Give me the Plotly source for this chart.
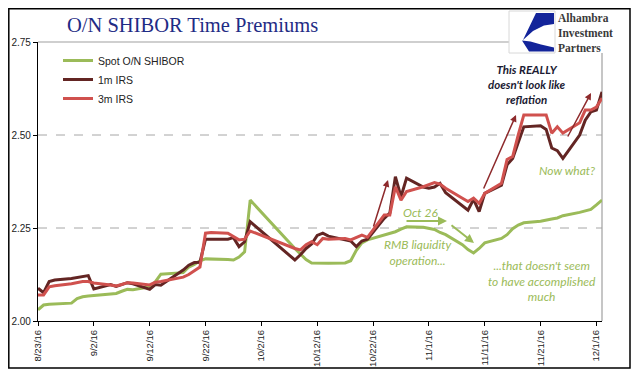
import plotly.graph_objects as go

# ---------------- data ----------------
dates = [
    "2016-08-23", "2016-08-24", "2016-08-25", "2016-08-26",
    "2016-08-29", "2016-08-30", "2016-08-31", "2016-09-01", "2016-09-02",
    "2016-09-05", "2016-09-06", "2016-09-07", "2016-09-08", "2016-09-09",
    "2016-09-12", "2016-09-13", "2016-09-14",
    "2016-09-18", "2016-09-19", "2016-09-20", "2016-09-21", "2016-09-22", "2016-09-23",
    "2016-09-26", "2016-09-27", "2016-09-28", "2016-09-29", "2016-09-30",
    "2016-10-08", "2016-10-09", "2016-10-10", "2016-10-11", "2016-10-12", "2016-10-13", "2016-10-14",
    "2016-10-17", "2016-10-18", "2016-10-19", "2016-10-20", "2016-10-21",
    "2016-10-24", "2016-10-25", "2016-10-26", "2016-10-27", "2016-10-28",
    "2016-10-31", "2016-11-01", "2016-11-02", "2016-11-03", "2016-11-04",
    "2016-11-07", "2016-11-08", "2016-11-09", "2016-11-10", "2016-11-11",
    "2016-11-14", "2016-11-15", "2016-11-16", "2016-11-17", "2016-11-18",
    "2016-11-21", "2016-11-22", "2016-11-23", "2016-11-24", "2016-11-25",
    "2016-11-28", "2016-11-29", "2016-11-30", "2016-12-01", "2016-12-02",
]

spot_on_shibor = [
    2.030, 2.043, 2.045, 2.046,
    2.048, 2.060, 2.065, 2.067, 2.068,
    2.072, 2.074, 2.080, 2.085, 2.084,
    2.092, 2.105, 2.126,
    2.130, 2.145, 2.152, 2.162, 2.167, 2.167,
    2.165, 2.164, 2.172, 2.186, 2.325,
    2.195, 2.180, 2.165, 2.156, 2.155, 2.155, 2.155,
    2.156, 2.162, 2.190, 2.210, 2.218,
    2.232, 2.236, 2.240, 2.247, 2.253,
    2.252, 2.250, 2.246, 2.238, 2.232,
    2.205, 2.192, 2.183, 2.195, 2.210,
    2.222, 2.232, 2.248, 2.258, 2.264,
    2.268, 2.270, 2.274, 2.277, 2.283,
    2.292, 2.296, 2.300, 2.312, 2.325,
]

irs_1m = [
    2.088, 2.076, 2.106, 2.110,
    2.114, 2.117, 2.120, 2.122, 2.086,
    2.098, 2.093, 2.097, 2.103, 2.100,
    2.085, 2.098, 2.096,
    2.137, 2.150, 2.157, 2.158, 2.220, 2.220,
    2.220, 2.224, 2.200, 2.213, 2.267,
    2.164, 2.178, 2.195, 2.207, 2.230, 2.236, 2.228,
    2.218, 2.215, 2.200, 2.215, 2.220,
    2.276, 2.290, 2.388, 2.334, 2.384,
    2.360, 2.357, 2.360, 2.370, 2.345,
    2.310, 2.298, 2.327, 2.294, 2.343,
    2.365, 2.420, 2.437, 2.480, 2.522,
    2.525, 2.515, 2.465, 2.458, 2.437,
    2.500, 2.540, 2.562, 2.567, 2.616,
]

irs_3m = [
    2.070, 2.070, 2.092, 2.095,
    2.100, 2.103, 2.106, 2.106, 2.102,
    2.097, 2.094, 2.098, 2.103, 2.102,
    2.097, 2.104, 2.106,
    2.118, 2.125, 2.135, 2.145, 2.236, 2.238,
    2.236, 2.228, 2.218, 2.220, 2.242,
    2.195, 2.191, 2.205, 2.213, 2.205, 2.222, 2.220,
    2.222, 2.218, 2.225, 2.231, 2.225,
    2.285, 2.285, 2.361, 2.325, 2.348,
    2.361, 2.366, 2.372, 2.368, 2.357,
    2.330, 2.321, 2.330, 2.316, 2.343,
    2.370, 2.434, 2.442, 2.500, 2.554,
    2.554, 2.554, 2.505, 2.522, 2.505,
    2.533, 2.567, 2.567, 2.575, 2.599,
]

x_tick_dates = ["2016-08-23", "2016-09-02", "2016-09-12", "2016-09-22", "2016-10-02",
                "2016-10-12", "2016-10-22", "2016-11-01", "2016-11-11", "2016-11-21", "2016-12-01"]
x_tick_labels = ["8/23/16", "9/2/16", "9/12/16", "9/22/16", "10/2/16",
                 "10/12/16", "10/22/16", "11/1/16", "11/11/16", "11/21/16", "12/1/16"]
y_tick_values = [2.00, 2.25, 2.50, 2.75]
y_tick_labels = ["2.00", "2.25", "2.50", "2.75"]

series_names = ["Spot O/N SHIBOR", "1m IRS", "3m IRS"]

# ---------------- layout helpers ----------------
# reference-image pixel frame; the page body adds an 8px offset, so the figure is 8px smaller
OFF = 8
W, H = 640 - OFF, 379 - OFF
L, R, T, B = 38, 602, 42, 321


def px(x):
    return (x - L) / (R - L)


def py(y):
    return (B - y) / (B - T)


GREEN = "#9BBB59"
DARK = "#632523"
RED = "#D0514E"
ARROW_RED = "#8E2A2C"
NAVY = "#1F2C85"

fig = go.Figure()
fig.add_trace(go.Scatter(x=dates, y=spot_on_shibor, name=series_names[0], mode="lines",
                         line=dict(color=GREEN, width=3)))
fig.add_trace(go.Scatter(x=dates, y=irs_1m, name=series_names[1], mode="lines",
                         line=dict(color=DARK, width=3)))
fig.add_trace(go.Scatter(x=dates, y=irs_3m, name=series_names[2], mode="lines",
                         line=dict(color=RED, width=3)))

shapes = []
# outer border
shapes.append(dict(type="rect", xref="paper", yref="paper", x0=px(8.8), x1=px(630), y0=py(368), y1=py(8.8),
                   line=dict(color="black", width=1.5), fillcolor="rgba(0,0,0,0)", layer="below"))
# dashed gridlines
for v in [2.25, 2.50]:
    shapes.append(dict(type="line", xref="paper", yref="y", x0=0, x1=1, y0=v, y1=v,
                       line=dict(color="#A6A6A6", width=1, dash="dash"), layer="below"))
# top line and right line of plot area
shapes.append(dict(type="line", xref="paper", yref="paper", x0=0, x1=px(509), y0=1, y1=1,
                   line=dict(color="#A0A0A0", width=1.2), layer="below"))
shapes.append(dict(type="line", xref="paper", yref="paper", x0=1, x1=1, y0=0, y1=py(53),
                   line=dict(color="#A0A0A0", width=1.2), layer="below"))
# logo box
shapes.append(dict(type="rect", xref="paper", yref="paper", x0=px(509), x1=px(555), y0=py(53), y1=py(11),
                   line=dict(color="#D8D8D8", width=1), fillcolor="white"))


def path(points):
    return "M " + " L ".join(f"{px(a):.5f},{py(b):.5f}" for a, b in points) + " Z"


shapes.append(dict(type="path", xref="paper", yref="paper",
                   path=path([(536, 13), (554, 13), (554, 24), (544, 25.5), (533, 31), (523, 40)]),
                   fillcolor="#13249A", line=dict(width=0)))
shapes.append(dict(type="path", xref="paper", yref="paper",
                   path=path([(522, 40.5), (529, 51.5), (554, 51.5), (554, 47.5), (541, 44.5), (530.5, 41.5)]),
                   fillcolor="#13249A", line=dict(width=0)))

annotations = []
# title
annotations.append(dict(text="O/N SHIBOR Time Premiums", xref="paper", yref="paper",
                        x=px(65), y=py(25), xanchor="left", yanchor="middle", showarrow=False,
                        font=dict(family="Liberation Serif", size=20.5, color=NAVY)))
# logo text
annotations.append(dict(text="<b>Alhambra<br>Investment<br>Partners</b>", xref="paper", yref="paper",
                        x=px(556), y=py(33), xanchor="left", yanchor="middle", showarrow=False,
                        align="left", font=dict(family="Liberation Serif", size=11.5, color="#3A3A3A")))

CAL = "Lato"
annotations.append(dict(text="<b><i>This REALLY<br>doesn't look like<br>reflation</i></b>",
                        xref="paper", yref="paper", x=px(527), y=py(84), xanchor="center", yanchor="middle",
                        showarrow=False, align="center", font=dict(family=CAL, size=11.5, color="#1B1B33")))
annotations.append(dict(text="<i>Now what?</i>", xref="paper", yref="paper", x=px(567), y=py(170),
                        xanchor="center", yanchor="middle", showarrow=False,
                        font=dict(family=CAL, size=12, color=GREEN)))
annotations.append(dict(text="<i>Oct 26</i>", xref="paper", yref="paper", x=px(420), y=py(212),
                        xanchor="center", yanchor="middle", showarrow=False,
                        font=dict(family=CAL, size=12, color=GREEN)))
annotations.append(dict(text="<i>RMB liquidity<br>operation...</i>", xref="paper", yref="paper",
                        x=px(417), y=py(252.5), xanchor="center", yanchor="middle", showarrow=False,
                        align="center", font=dict(family=CAL, size=12, color=GREEN)))
annotations.append(dict(text="<i>...that doesn't seem<br>to have accomplished<br>much</i>", xref="paper",
                        yref="paper", x=px(542), y=py(281), xanchor="center", yanchor="middle",
                        showarrow=False, align="center", font=dict(family=CAL, size=12, color=GREEN)))

# arrows: (tail_x, tail_y, head_x, head_y, color, width)
arrows = [
    (373, 228, 388, 180, ARROW_RED, 1.5),
    (483, 190, 516, 115, ARROW_RED, 1.5),
    (567, 138, 591, 93, ARROW_RED, 1.5),
    (405, 221, 447, 221, GREEN, 2),
    (450, 224, 474, 243, GREEN, 2),
]
for tx, ty, hx, hy, col, w in arrows:
    annotations.append(dict(text="", xref="paper", yref="paper", x=px(hx), y=py(hy),
                            ax=tx - hx, ay=ty - hy, axref="pixel", ayref="pixel",
                            showarrow=True, arrowhead=2, arrowsize=0.9, arrowwidth=w, arrowcolor=col))

fig.update_layout(
    width=W, height=H,
    margin=dict(l=L - OFF, r=W - (R - OFF), t=T - OFF, b=H - (B - OFF), pad=0, autoexpand=False),
    paper_bgcolor="white", plot_bgcolor="white",
    font=dict(family="Liberation Sans", color="#222222"),
    showlegend=True,
    legend=dict(x=px(58), y=py(46), xanchor="left", yanchor="top", bgcolor="rgba(0,0,0,0)",
                font=dict(family="Liberation Sans", size=10.5, color="#222222"),
                tracegroupgap=0, itemwidth=30),
    xaxis=dict(type="date", range=["2016-08-23", "2016-12-02"], tickmode="array",
               tickvals=x_tick_dates, ticktext=x_tick_labels, tickangle=-90, automargin=False,
               tickfont=dict(family="Liberation Sans", size=9.5, color="#222222"),
               showgrid=False, zeroline=False, showline=True, linecolor="black", linewidth=1.2,
               ticks="outside", ticklen=4, tickcolor="black"),
    yaxis=dict(range=[2.0, 2.75], tickmode="array", tickvals=y_tick_values, ticktext=y_tick_labels,
               automargin=False,
               tickfont=dict(family="Liberation Sans", size=10, color="#222222"),
               showgrid=False, zeroline=False, showline=True, linecolor="black", linewidth=1.2,
               ticks="outside", ticklen=4, tickcolor="black"),
    shapes=shapes,
    annotations=annotations,
)

fig.write_html("out.html")
